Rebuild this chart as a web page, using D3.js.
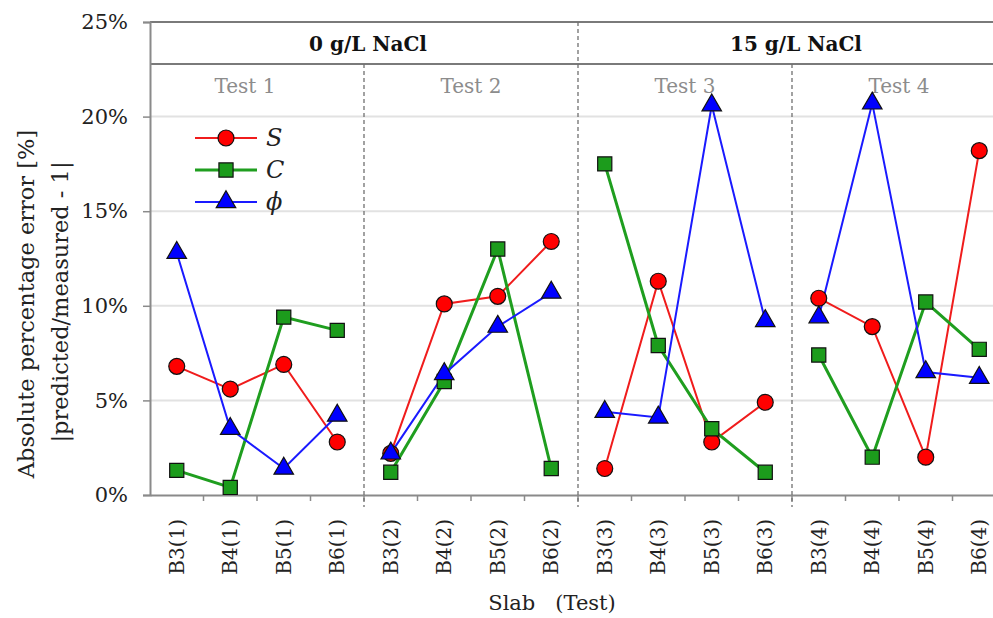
<!DOCTYPE html>
<html>
<head>
<meta charset="utf-8">
<script src="https://cdnjs.cloudflare.com/ajax/libs/d3/7.8.5/d3.min.js"></script>
<style>
  body { margin: 0; background: #fff; }
  svg { display: block; font-family: "DejaVu Serif", serif; }
</style>
</head>
<body>
<svg id="chart" width="993" height="618"></svg>
<script>
// categories along the x axis (slab with test number)
var categories = ["B3(1)", "B4(1)", "B5(1)", "B6(1)",
                  "B3(2)", "B4(2)", "B5(2)", "B6(2)",
                  "B3(3)", "B4(3)", "B5(3)", "B6(3)",
                  "B3(4)", "B4(4)", "B5(4)", "B6(4)"];
var testNames = ["Test 1", "Test 2", "Test 3", "Test 4"];
var groupNames = ["0 g/L NaCl", "15 g/L NaCl"];

// absolute percentage error [%]
var valuesS   = [6.8, 5.6, 6.9, 2.8,  2.2, 10.1, 10.5, 13.4,  1.4, 11.3, 2.8, 4.9,  10.4, 8.9, 2.0, 18.2];
var valuesC   = [1.3, 0.4, 9.4, 8.7,  1.2, 6.0, 13.0, 1.4,  17.5, 7.9, 3.5, 1.2,  7.4, 2.0, 10.2, 7.7];
var valuesPhi = [12.8, 3.5, 1.4, 4.2,  2.2, 6.4, 8.9, 10.7,  4.4, 4.1, 20.6, 9.2,  9.4, 20.7, 6.5, 6.2];

var yTicks = [0, 5, 10, 15, 20, 25];

var svg = d3.select("#chart");
// plot box (note: "top" is reserved on window, so use plotTop etc.)
var plotLeft = 150, plotRight = 1006, plotTop = 22, plotBottom = 495, headerBottom = 64;

var x = d3.scaleBand().domain(categories).range([plotLeft, plotRight]);
var y = d3.scaleLinear().domain([0, 25]).range([plotBottom, plotTop]);
var groupWidth = x.step() * 4;

// gridlines
svg.append("g").selectAll("line")
  .data(yTicks.filter(function (d) { return d > 0 && d < 25; }))
  .enter().append("line")
  .attr("x1", plotLeft).attr("x2", plotRight)
  .attr("y1", function (d) { return y(d); })
  .attr("y2", function (d) { return y(d); })
  .attr("stroke", "#e2e2e2").attr("stroke-width", 2);

// frame: top border and header line
svg.append("line").attr("x1", plotLeft).attr("x2", plotRight).attr("y1", plotTop).attr("y2", plotTop)
  .attr("stroke", "#7a7a7a").attr("stroke-width", 2);
svg.append("line").attr("x1", plotLeft).attr("x2", plotRight).attr("y1", headerBottom).attr("y2", headerBottom)
  .attr("stroke", "#7a7a7a").attr("stroke-width", 2);

// y axis
var yAxis = d3.axisLeft(y).tickValues(yTicks).tickSize(7)
  .tickFormat(function (d) { return d + "%"; });
var gy = svg.append("g").attr("transform", "translate(" + plotLeft + ",0)").call(yAxis);
gy.select(".domain").attr("stroke", "#8a8a8a").attr("stroke-width", 2);
gy.selectAll(".tick line").attr("stroke", "#8a8a8a").attr("stroke-width", 1.5);
gy.selectAll(".tick text").attr("font-family", "DejaVu Serif").attr("font-size", 21)
  .attr("fill", "#222").attr("x", -22);

// x axis
var xAxis = d3.axisBottom(x).tickSize(0);
var gx = svg.append("g").attr("transform", "translate(0," + plotBottom + ")").call(xAxis);
gx.select(".domain").attr("stroke", "#8a8a8a").attr("stroke-width", 2);
gx.selectAll(".tick text")
  .attr("font-family", "DejaVu Serif").attr("font-size", 20).attr("fill", "#222")
  .attr("transform", "rotate(-90)")
  .attr("x", -24).attr("y", 0).attr("dy", "0.35em")
  .style("text-anchor", "end");
// small ticks between categories
svg.append("g").selectAll("line")
  .data(categories.slice(1))
  .enter().append("line")
  .attr("x1", function (d) { return x(d); }).attr("x2", function (d) { return x(d); })
  .attr("y1", plotBottom).attr("y2", plotBottom + 6)
  .attr("stroke", "#8a8a8a").attr("stroke-width", 1.5);

// dashed separators
[1, 2, 3].forEach(function (i) {
  var sx = plotLeft + i * groupWidth;
  svg.append("line")
    .attr("x1", sx).attr("x2", sx)
    .attr("y1", i === 2 ? plotTop : headerBottom).attr("y2", plotBottom + 12)
    .attr("stroke", "#707070").attr("stroke-width", 1.3)
    .attr("stroke-dasharray", "4,3");
});

// header labels
groupNames.forEach(function (g, i) {
  svg.append("text")
    .attr("x", plotLeft + 4 + groupWidth * (2 * i + 1)).attr("y", 51)
    .attr("text-anchor", "middle").attr("font-size", 20).attr("font-weight", "bold")
    .attr("fill", "#111").text(g);
});
testNames.forEach(function (t, i) {
  svg.append("text")
    .attr("x", plotLeft + groupWidth * (i + 0.5) - (i === 0 ? 12 : 0)).attr("y", 93)
    .attr("text-anchor", "middle").attr("font-size", 20)
    .attr("fill", "#8c8c8c").text(t);
});

// axis titles
svg.append("text")
  .attr("transform", "translate(34,304) rotate(-90)")
  .attr("text-anchor", "middle").attr("font-size", 22.5).attr("fill", "#222")
  .text("Absolute percentage error [%]");
svg.append("text")
  .attr("transform", "translate(68,302) rotate(-90)")
  .attr("text-anchor", "middle").attr("font-size", 22.5).attr("fill", "#222")
  .text("|predicted/measured - 1|");
svg.append("text")
  .attr("x", 552).attr("y", 610)
  .attr("text-anchor", "middle").attr("font-size", 21).attr("fill", "#222")
  .attr("xml:space", "preserve")
  .text("Slab   (Test)");

// series
var series = [
  { name: "S", values: valuesS, line: "#f01c1c", fill: "#ff0000", width: 2, symbol: d3.symbolCircle, size: 200 },
  { name: "C", values: valuesC, line: "#1f9e1f", fill: "#1c9c1c", width: 3, symbol: d3.symbolSquare, size: 200 },
  { name: "\u03d5", values: valuesPhi, line: "#1a1aff", fill: "#0000ff", width: 2, symbol: d3.symbolTriangle, size: 165 }
];

var line = d3.line()
  .x(function (d) { return x(d.cat) + x.bandwidth() / 2; })
  .y(function (d) { return y(d.v); });

series.forEach(function (s) {
  var pts = s.values.map(function (v, i) { return { cat: categories[i], v: v, test: Math.floor(i / 4) }; });
  var g = svg.append("g");
  d3.groups(pts, function (d) { return d.test; }).forEach(function (grp) {
    g.append("path").attr("d", line(grp[1]))
      .attr("fill", "none").attr("stroke", s.line).attr("stroke-width", s.width);
  });
});

series.forEach(function (s) {
  var pts = s.values.map(function (v, i) { return { cat: categories[i], v: v }; });
  svg.append("g").selectAll("path")
    .data(pts).enter().append("path")
    .attr("d", d3.symbol().type(s.symbol).size(s.size))
    .attr("transform", function (d) {
      return "translate(" + (x(d.cat) + x.bandwidth() / 2) + "," + y(d.v) + ")";
    })
    .attr("fill", s.fill).attr("stroke", "#111").attr("stroke-width", 1.2);
});

// legend
var legend = svg.append("g");
series.forEach(function (s, i) {
  var ly = 138 + i * 32;
  legend.append("line").attr("x1", 195).attr("x2", 257).attr("y1", ly).attr("y2", ly)
    .attr("stroke", s.line).attr("stroke-width", s.width);
  legend.append("path")
    .attr("d", d3.symbol().type(s.symbol).size(s.size))
    .attr("transform", "translate(226," + ly + ")")
    .attr("fill", s.fill).attr("stroke", "#111").attr("stroke-width", 1.2);
  legend.append("text").attr("x", 266).attr("y", ly + 8)
    .attr("font-size", 24).attr("font-style", "italic").attr("fill", "#222")
    .text(s.name);
});
</script>
</body>
</html>
